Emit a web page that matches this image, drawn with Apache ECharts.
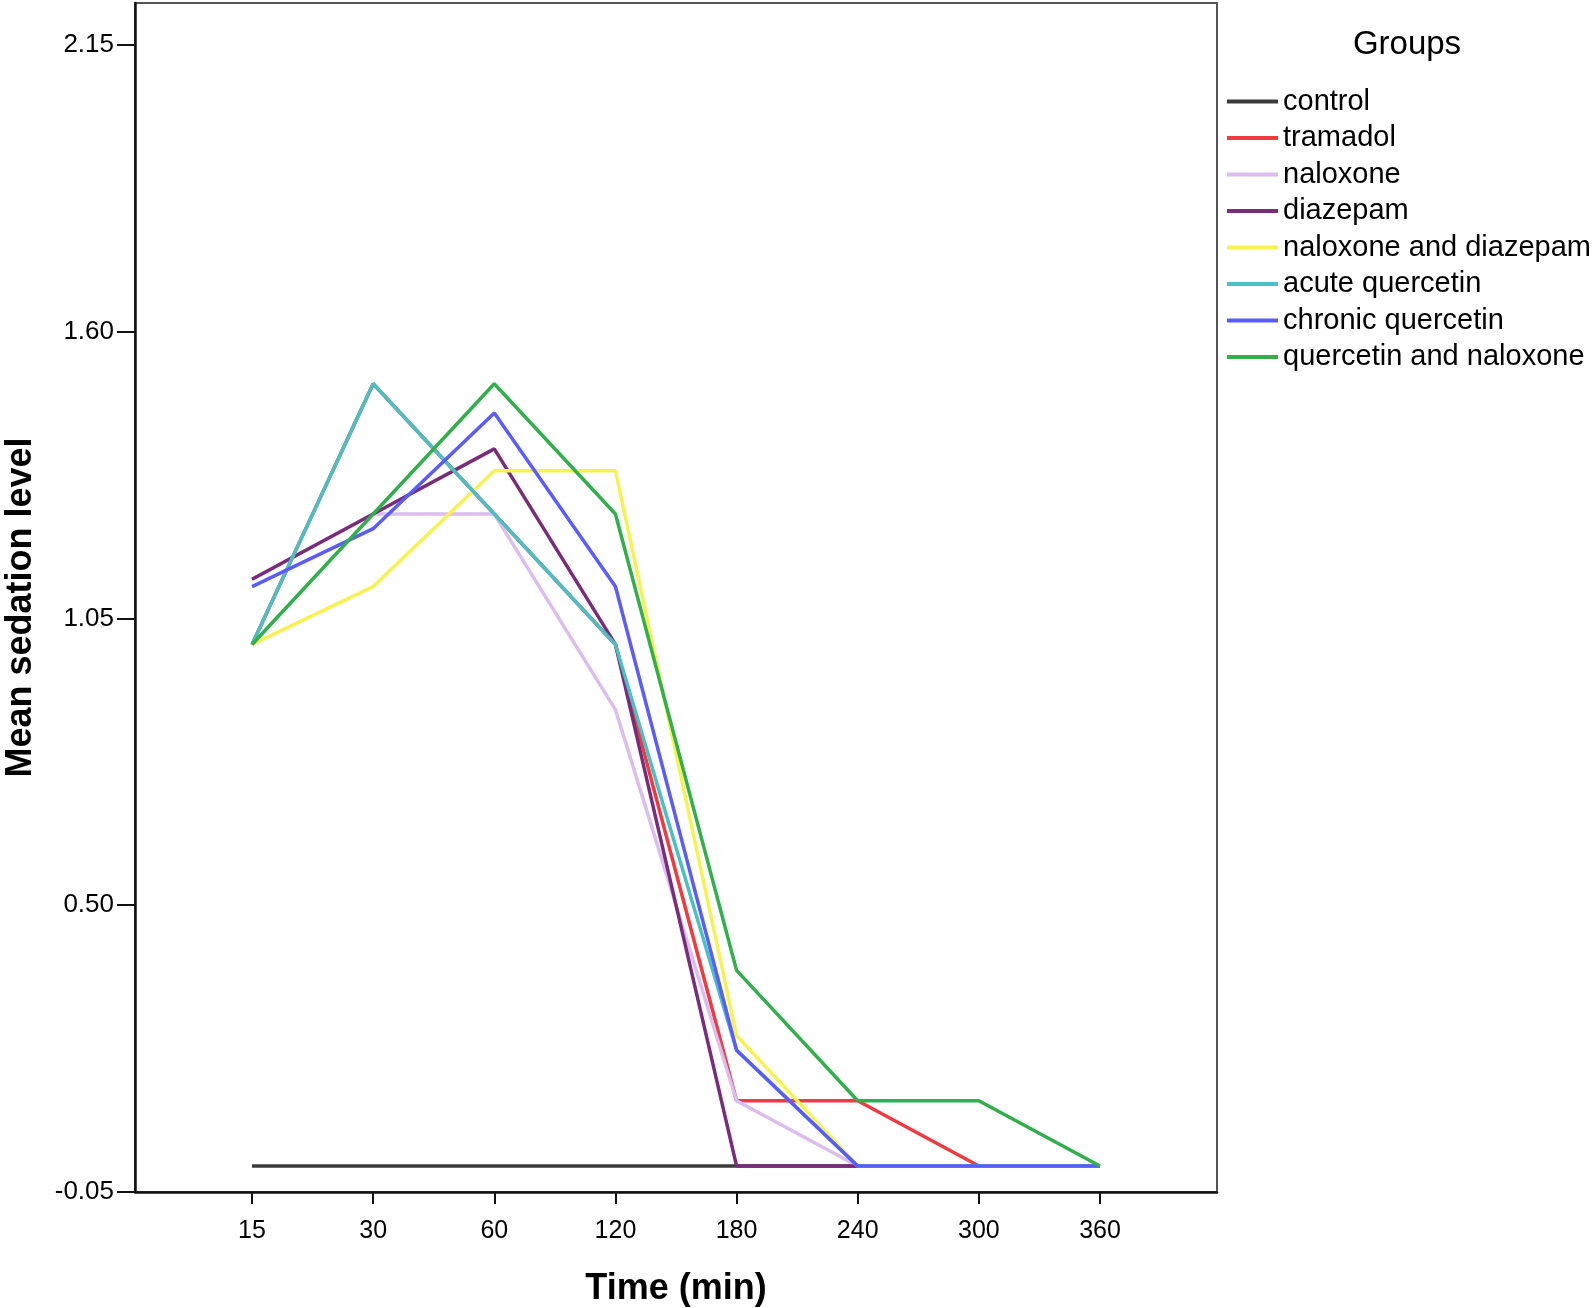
<!DOCTYPE html>
<html>
<head>
<meta charset="utf-8">
<script src="https://cdn.jsdelivr.net/npm/echarts@6/dist/echarts.min.js"></script>
<style>
html,body{margin:0;padding:0;background:#fff;}
#chart{width:1593px;height:1308px;}
</style>
</head>
<body>
<div id="chart"></div>
<script>
// ---- data ----
const times = ['15', '30', '60', '120', '180', '240', '300', '360'];
const yTicks = [-0.05, 0.50, 1.05, 1.60, 2.15];
const groupNames = ['control', 'tramadol', 'naloxone', 'diazepam', 'naloxone and diazepam', 'acute quercetin', 'chronic quercetin', 'quercetin and naloxone'];
const control            = [0, 0, 0, 0, 0, 0, 0, 0];
const tramadol           = [1.0, 1.5, 1.25, 1.0, 0.125, 0.125, 0, 0];
const naloxone           = [1.125, 1.25, 1.25, 0.875, 0.125, 0, 0, 0];
const diazepam           = [1.125, 1.25, 1.375, 1.0, 0, 0, 0, 0];
const naloxoneDiazepam   = [1.0, 1.111, 1.333, 1.333, 0.25, 0, 0, 0];
const acuteQuercetin     = [1.0, 1.5, 1.25, 1.0, 0.222, 0, 0, 0];
const chronicQuercetin   = [1.111, 1.222, 1.444, 1.111, 0.222, 0, 0, 0];
const quercetinNaloxone  = [1.0, 1.25, 1.5, 1.25, 0.375, 0.125, 0.125, 0];

const seriesValues = [control, tramadol, naloxone, diazepam, naloxoneDiazepam, acuteQuercetin, chronicQuercetin, quercetinNaloxone];
const colors = ['#3a3a3a', '#f03a3f', '#dcbdf0', '#7a2c7c', '#f8f250', '#48c0c4', '#5a5cff', '#2fb04a'];

const FONT = 'Arial, "Liberation Sans", sans-serif';
const idx = times.map((t, i) => i);

const chart = echarts.init(document.getElementById('chart'), null, {renderer: 'canvas'});
chart.setOption({
  animation: false,
  backgroundColor: '#ffffff',
  grid: {
    left: 135, top: 3, width: 1082, height: 1189,
    containLabel: false, outerBoundsMode: 'none',
    show: true, borderColor: '#555', borderWidth: 2, backgroundColor: 'transparent'
  },
  graphic: [{
    type: 'text', x: 1407, y: 45,
    style: {text: 'Groups', fontSize: 33, fontFamily: FONT, fill: '#000', textAlign: 'center', textVerticalAlign: 'middle'}
  }],
  legend: {
    orient: 'vertical', left: 1222, top: 82,
    itemWidth: 51, itemHeight: 4, itemGap: 7.5,
    icon: 'rect',
    textStyle: {fontSize: 29, lineHeight: 29, fontFamily: FONT, color: '#000'},
    data: groupNames
  },
  xAxis: {
    type: 'value', min: -0.966, max: 7.966,
    name: 'Time (min)', nameLocation: 'middle', nameGap: 79,
    nameTextStyle: {fontSize: 36, fontWeight: 'bold', fontFamily: FONT, color: '#000'},
    axisLine: {show: true, onZero: false, lineStyle: {color: '#111', width: 2.5}},
    axisTick: {show: true, length: 12, customValues: idx, lineStyle: {color: '#111', width: 2}},
    axisLabel: {customValues: idx, formatter: v => times[Math.round(v)], fontSize: 25, fontFamily: FONT, color: '#000', margin: 27},
    splitLine: {show: false}
  },
  yAxis: {
    type: 'value', min: -0.05, max: 2.23,
    name: 'Mean sedation level', nameLocation: 'middle', nameRotate: 90, nameGap: 96,
    nameTextStyle: {fontSize: 36, fontWeight: 'bold', fontFamily: FONT, color: '#000', padding: [0, 20, 0, 0]},
    axisLine: {show: true, onZero: false, lineStyle: {color: '#111', width: 2.5}},
    axisTick: {show: true, length: 18, customValues: yTicks, lineStyle: {color: '#111', width: 2}},
    axisLabel: {customValues: yTicks, formatter: v => v.toFixed(2), fontSize: 26, fontFamily: FONT, color: '#000', margin: 21},
    splitLine: {show: false}
  },
  series: groupNames.map((name, s) => ({
    name: name,
    type: 'line',
    color: colors[s],
    symbol: 'none',
    lineStyle: {width: 3.5, color: colors[s]},
    itemStyle: {color: colors[s]},
    data: times.map((t, i) => [i, seriesValues[s][i]])
  }))
});
</script>
</body>
</html>
